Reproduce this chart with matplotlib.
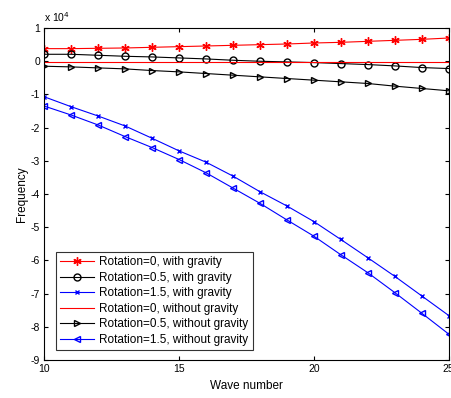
import numpy as np
import matplotlib
matplotlib.use("Agg")
import matplotlib.pyplot as plt
import matplotlib.ticker as mticker

# ── data (frequency in units of 1e4) ─────────────────────────────────────────
wave = np.arange(10, 26)

rot0_grav   = [0.38, 0.38, 0.39, 0.40, 0.42, 0.44, 0.46, 0.48, 0.50, 0.52,
               0.55, 0.57, 0.60, 0.63, 0.66, 0.70]
rot05_grav  = [0.21, 0.21, 0.18, 0.15, 0.13, 0.10, 0.07, 0.03, 0.00, -0.02,
               -0.04, -0.07, -0.10, -0.14, -0.19, -0.22]
rot15_grav  = [-1.07, -1.37, -1.65, -1.95, -2.32, -2.70, -3.04, -3.46, -3.93, -4.36,
               -4.83, -5.37, -5.92, -6.48, -7.07, -7.66]
rot0_nograv = [-0.02] * 16
rot05_nograv = [-0.15, -0.17, -0.20, -0.23, -0.28, -0.32, -0.37, -0.42, -0.47, -0.52,
                -0.57, -0.62, -0.67, -0.75, -0.82, -0.89]
rot15_nograv = [-1.35, -1.62, -1.92, -2.27, -2.60, -2.96, -3.36, -3.82, -4.28, -4.78,
                -5.27, -5.83, -6.37, -6.97, -7.59, -8.22]

labels = ["Rotation=0, with gravity", "Rotation=0.5, with gravity",
          "Rotation=1.5, with gravity", "Rotation=0, without gravity",
          "Rotation=0.5, without gravity", "Rotation=1.5, without gravity"]

plt.rcParams["font.family"] = ["Liberation Sans", "DejaVu Sans"]

fig = plt.figure(figsize=(4.51, 3.98), dpi=100)
ax = fig.add_axes([0.098, 0.0955, 0.897, 0.834])

lw = 0.8
ms = 5
asterisk = (6, 2, 0)
ax.plot(wave, rot0_grav, color="red", marker=asterisk, ms=ms + 1, mew=1.0, lw=lw,
        label=labels[0])
ax.plot(wave, rot05_grav, color="black", marker="o", mfc="none", ms=ms, lw=lw,
        label=labels[1])
ax.plot(wave, rot15_grav, color="blue", marker="x", ms=3.5, lw=lw, label=labels[2])
ax.plot(wave, rot0_nograv, color="red", lw=lw, label=labels[3])
ax.plot(wave, rot05_nograv, color="black", marker=">", mfc="none", ms=ms, lw=lw,
        label=labels[4])
ax.plot(wave, rot15_nograv, color="blue", marker="<", mfc="none", ms=ms, lw=lw,
        label=labels[5])

ax.set_xlim(10, 25)
ax.set_ylim(-9, 1)
ax.set_xticks([10, 15, 20, 25])
ax.set_yticks(np.arange(-9, 2, 1))
ax.yaxis.set_major_formatter(mticker.FuncFormatter(lambda y, _: f"{y:.0f}"))
ax.tick_params(direction="in", top=True, right=True, labelsize=7.5, length=3,
               width=0.8, pad=3)
for s in ax.spines.values():
    s.set_linewidth(0.8)

ax.set_xlabel("Wave number", fontsize=8.5, labelpad=4)
ax.set_ylabel("Frequency", fontsize=8.5, labelpad=2)
ax.text(0.0, 1.012, r"x 10$^4$", transform=ax.transAxes, fontsize=7.5,
        ha="left", va="bottom")

leg = ax.legend(loc="lower left", bbox_to_anchor=(0.03, 0.03), fontsize=8.5,
                frameon=True, fancybox=False, edgecolor="black",
                handlelength=2.8, borderaxespad=0, labelspacing=0.3,
                borderpad=0.35, handletextpad=0.5)
leg.get_frame().set_linewidth(0.8)

fig.savefig("out.png", dpi=100)
